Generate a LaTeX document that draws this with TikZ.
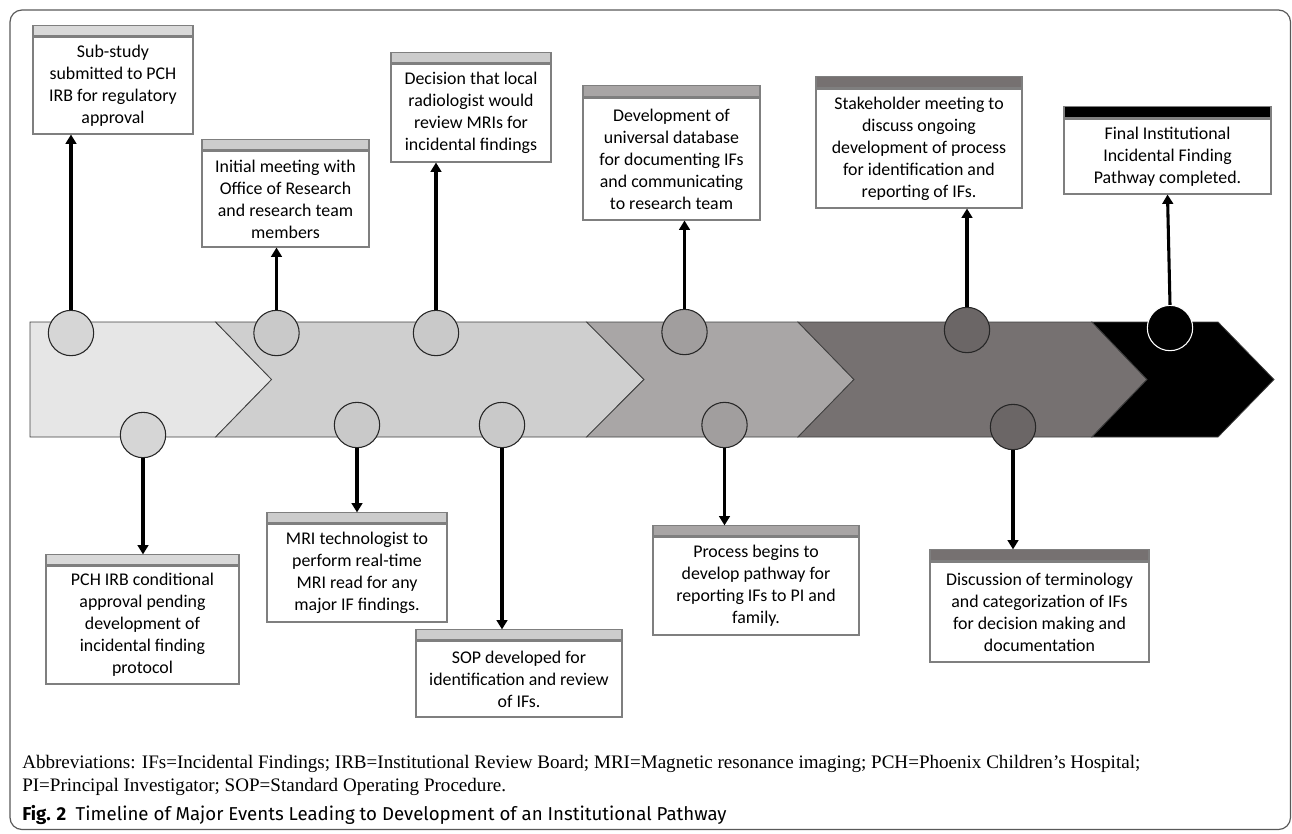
\documentclass[tikz,border=0pt]{standalone}
\usepackage{fontspec}
\setmainfont{Carlito}
\newfontfamily\abbrfont{Liberation Serif}
\newfontfamily\capfont{Fira Sans}
\usetikzlibrary{arrows.meta}
\definecolor{sA}{HTML}{E6E6E6}
\definecolor{sB}{HTML}{CFCFCF}
\definecolor{sC}{HTML}{A9A6A6}
\definecolor{sD}{HTML}{767171}
\definecolor{cA}{HTML}{D6D6D6}
\definecolor{cB}{HTML}{C9C9C9}
\definecolor{cC}{HTML}{A19E9E}
\definecolor{cD}{HTML}{6B6666}
\definecolor{hA}{HTML}{D9D9D9}
\definecolor{hB}{HTML}{CCCCCC}
\definecolor{hC}{HTML}{A8A5A5}
\definecolor{hD}{HTML}{767171}
\definecolor{boxline}{HTML}{7F7F7F}
\definecolor{segline}{HTML}{404040}
\tikzset{
  seg/.style={draw=segline, line width=0.6pt},
  circ/.style={circle, draw=black!85, line width=0.8pt, minimum size=34pt, inner sep=0pt},
  body/.style={draw=boxline, line width=0.8pt, fill=white, inner sep=0pt, align=center,
     font=\fontsize{13.4}{16.5}\selectfont},
  head/.style={draw=boxline, line width=0.8pt, inner sep=0pt, minimum height=7.5pt, anchor=south},
  arr/.style={line width=2.3pt, -{Triangle[width=8pt,length=7pt]}},
}
\begin{document}
\begin{tikzpicture}[x=0.75pt,y=-0.75pt]
\useasboundingbox (0,0) rectangle (1292,833);
% frame
\draw[draw=black!65, line width=0.9pt, rounded corners=9pt] (10,10) rectangle (1290.5,829.5);
% chevron band
\filldraw[seg, fill=sA] (30,322) -- (215.6,322) -- (271.6,379.5) -- (215.6,437) -- (30,437) -- cycle;
\filldraw[seg, fill=sB] (215.6,322) -- (586.6,322) -- (644,379.5) -- (586.6,437) -- (215.6,437) -- (271.6,379.5) -- cycle;
\filldraw[seg, fill=sC] (586.6,322) -- (798,322) -- (854,379.5) -- (798,437) -- (586.6,437) -- (644,379.5) -- cycle;
\filldraw[seg, fill=sD] (798,322) -- (1092,322) -- (1147,379.5) -- (1092,437) -- (798,437) -- (854,379.5) -- cycle;
\filldraw[seg, fill=black] (1092,322) -- (1218,322) -- (1274,379.5) -- (1218,437) -- (1092,437) -- (1147,379.5) -- cycle;

% top boxes
\node[body, minimum width=120pt, minimum height=72.75pt] (T1) at (113,85.5) {Sub-study\\submitted to PCH\\IRB for regulatory\\approval};
\node[head, fill=hA, minimum width=120pt] (T1h) at (T1.north) {};
\node[body, minimum width=125.25pt, minimum height=72pt] (T2) at (285.5,199) {Initial meeting with\\Office of Research\\and research team\\members};
\node[head, fill=hB, minimum width=125.25pt] (T2h) at (T2.north) {};
\node[body, minimum width=120pt, minimum height=73.5pt] (T3) at (471,113) {Decision that local\\radiologist would\\review MRIs for\\incidental findings};
\node[head, fill=hB, minimum width=120pt] (T3h) at (T3.north) {};
\node[body, minimum width=132.75pt, minimum height=91.5pt] (T4) at (671.5,159) {Development of\\universal database\\for documenting IFs\\and communicating\\to research team};
\node[head, fill=hC, minimum width=132.75pt, minimum height=8.25pt] (T4h) at (T4.north) {};
\node[body, minimum width=154.5pt, minimum height=89.25pt] (T5) at (919,148.5) {Stakeholder meeting to\\discuss ongoing\\development of process\\for identification and\\reporting of IFs.};
\node[head, fill=hD, minimum width=154.5pt, minimum height=8.25pt] (T5h) at (T5.north) {};
\node[body, minimum width=155.25pt, minimum height=56.25pt] (T6) at (1167.5,156.5) {Final Institutional\\Incidental Finding\\Pathway completed.};
\node[head, fill=black, minimum width=155.25pt, minimum height=8.25pt] (T6h) at (T6.north) {};

% bottom boxes
\node[body, minimum width=144.75pt, minimum height=88.5pt] (B1) at (142.5,625) {PCH IRB conditional\\approval pending\\development of\\incidental finding\\protocol};
\node[head, fill=hA, minimum width=144.75pt] (B1h) at (B1.north) {};
\node[body, minimum width=135pt, minimum height=73.5pt] (B2) at (357,573) {MRI technologist to\\perform real-time\\MRI read for any\\major IF findings.};
\node[head, fill=hB, minimum width=135pt] (B2h) at (B2.north) {};
\node[body, minimum width=154.5pt, minimum height=57pt] (B3) at (519,679) {SOP developed for\\identification and review\\of IFs.};
\node[head, fill=hB, minimum width=154.5pt] (B3h) at (B3.north) {};
\node[body, minimum width=154.5pt, minimum height=73.5pt] (B4) at (756,586) {Process begins to\\develop pathway for\\reporting IFs to PI and\\family.};
\node[head, fill=hC, minimum width=154.5pt] (B4h) at (B4.north) {};
\node[body, minimum width=164.25pt, minimum height=75pt] (B5) at (1039.5,612) {Discussion of terminology\\and categorization of IFs\\for decision making and\\documentation};
\node[head, fill=hD, minimum width=164.25pt, minimum height=8.25pt] (B5h) at (B5.north) {};

% circles
\node[circ, fill=cA] (c1) at (71,333) {};
\node[circ, fill=cB] (c2) at (276.5,333) {};
\node[circ, fill=cB] (c3) at (436,333) {};
\node[circ, fill=cC] (c4) at (684.5,332) {};
\node[circ, fill=cD] (c5) at (967,330) {};
\node[circ, fill=black, draw=white] (c6) at (1170,328) {};
\node[circ, fill=cA] (b1) at (143,435) {};
\node[circ, fill=cB] (b2) at (357,425) {};
\node[circ, fill=cB] (b3) at (502,425) {};
\node[circ, fill=cC] (b4) at (724.5,425) {};
\node[circ, fill=cD] (b5) at (1013,427) {};

% arrows
\draw[arr] (c1.north) -- (c1.north |- T1.south);
\draw[arr] (c2.north) -- (c2.north |- T2.south);
\draw[arr] (c3.north) -- (c3.north |- T3.south);
\draw[arr] (c4.north) -- (c4.north |- T4.south);
\draw[arr] (c5.north) -- (c5.north |- T5.south);
\draw[arr] (c6.north) -- (T6.south);
\draw[arr] (b1.south) -- (b1.south |- B1h.north);
\draw[arr] (b2.south) -- (b2.south |- B2h.north);
\draw[arr] (b3.south) -- (b3.south |- B3h.north);
\draw[arr] (b4.south) -- (b4.south |- B4h.north);
\draw[arr] (b5.south) -- (b5.south |- B5h.north);

% notes and caption
\node[anchor=base west, inner sep=0pt, font=\abbrfont\fontsize{14.3}{17}\selectfont] (ab1) at (22,768) {Abbreviations: IFs=Incidental Findings; IRB=Institutional Review Board; MRI=Magnetic resonance imaging; PCH=Phoenix Children’s Hospital;};
\node[anchor=base west, inner sep=0pt, font=\abbrfont\fontsize{14.3}{17}\selectfont] (ab2) at (22,791) {PI=Principal Investigator; SOP=Standard Operating Procedure.};
\node[anchor=base west, inner sep=0pt, font=\capfont\fontsize{14}{16}\selectfont] (cap) at (22,820) {\textbf{Fig. 2}\hspace{0.5em}Timeline of Major Events Leading to Development of an Institutional Pathway};
\end{tikzpicture}
\end{document}
